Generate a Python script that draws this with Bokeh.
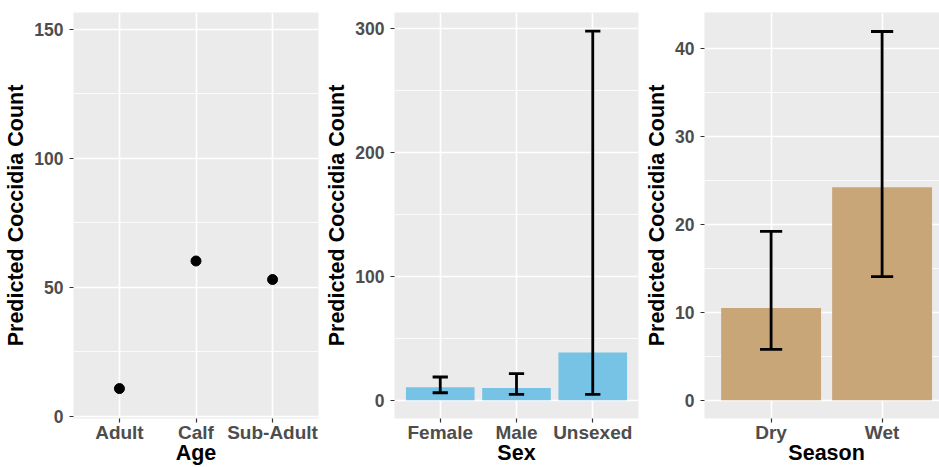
from bokeh.plotting import figure
from bokeh.layouts import row
from bokeh.models import Range1d, FixedTicker, LinearAxis
from bokeh.embed import file_html
from bokeh.resources import INLINE

# ---- data ----
age_categories = ["Adult", "Calf", "Sub-Adult"]
age_pred = [10.7, 60.2, 53.0]

sex_categories = ["Female", "Male", "Unsexed"]
sex_pred = [10.5, 9.9, 38.7]
sex_lower = [6.1, 4.8, 4.8]
sex_upper = [18.8, 21.5, 298.1]

season_categories = ["Dry", "Wet"]
season_pred = [10.5, 24.2]
season_lower = [5.8, 14.05]
season_upper = [19.2, 41.9]

age_yticks = [0, 50, 100, 150]
age_yminor = [25, 75, 125]
sex_yticks = [0, 100, 200, 300]
sex_yminor = [50, 150, 250]
season_yticks = [0, 10, 20, 30, 40]
season_yminor = [5, 15, 25, 35]

FONT = "Liberation Sans"
PANEL_BG = "#EBEBEB"
FIG_H = 467


def make_fig(width, bl, br, cats, x_end, y_start, y_end, yticks, yminor, xlabel):
    xs = list(range(1, len(cats) + 1))
    p = figure(width=width, height=FIG_H, output_backend="svg", toolbar_location=None,
               x_range=Range1d(0.4, x_end), y_range=Range1d(y_start, y_end),
               min_border_left=bl, min_border_right=br, min_border_top=12,
               min_border_bottom=20)
    p.background_fill_color = PANEL_BG
    p.border_fill_color = "white"
    p.outline_line_color = None

    p.xaxis.ticker = FixedTicker(ticks=xs)
    p.xaxis.major_label_overrides = {x: c for x, c in zip(xs, cats)}
    p.yaxis.ticker = FixedTicker(ticks=yticks, minor_ticks=yminor)

    for ax in (p.xaxis[0], p.yaxis[0]):
        ax.axis_line_color = None
        ax.major_tick_line_color = "#333333"
        ax.major_tick_line_width = 1.2
        ax.major_tick_out = 4
        ax.major_tick_in = 0
        ax.minor_tick_line_color = None
        ax.major_label_text_font = FONT
        ax.major_label_text_font_style = "bold"
        ax.major_label_text_color = "#4D4D4D"
        ax.axis_label_text_font = FONT
        ax.axis_label_text_font_style = "bold"
        ax.axis_label_text_font_size = "21.5px"
        ax.axis_label_text_color = "black"
    p.xaxis.major_label_text_font_size = "19px"
    p.yaxis.major_label_text_font_size = "17.5px"
    p.xaxis.major_label_standoff = -1
    p.yaxis.axis_label = "Predicted Coccidia Count"
    p.yaxis.major_label_standoff = 6
    p.yaxis.axis_label_standoff = 3

    # x-axis title: a second, tick-less axis below carrying one label at the centre
    mid = (len(cats) + 1) / 2
    title_axis = LinearAxis(ticker=FixedTicker(ticks=[mid]),
                            major_label_overrides={mid: xlabel},
                            axis_line_color=None, major_tick_line_color=None,
                            minor_tick_line_color=None, major_tick_out=0, major_tick_in=0,
                            major_label_standoff=-5,
                            major_label_text_font=FONT, major_label_text_font_style="bold",
                            major_label_text_font_size="21.5px",
                            major_label_text_color="black")
    p.add_layout(title_axis, "below")

    p.xgrid.grid_line_color = "white"
    p.xgrid.grid_line_width = 1.6
    p.ygrid.grid_line_color = "white"
    p.ygrid.grid_line_width = 1.6
    p.ygrid.minor_grid_line_color = "white"
    p.ygrid.minor_grid_line_width = 0.8
    return p, xs


def add_errorbars(p, xs, lo, hi):
    half = 0.1
    p.segment(x0=xs, y0=lo, x1=xs, y1=hi, line_color="black", line_width=2.8)
    p.segment(x0=[x - half for x in xs], y0=lo, x1=[x + half for x in xs], y1=lo,
              line_color="black", line_width=2.8)
    p.segment(x0=[x - half for x in xs], y0=hi, x1=[x + half for x in xs], y1=hi,
              line_color="black", line_width=2.8)


# Panel 1: Age
p1, xs1 = make_fig(320, 73, 2, age_categories, 3.6, -0.9, 156.6,
                   age_yticks, age_yminor, "Age")
p1.scatter(x=xs1, y=age_pred, size=10, color="black")

# Panel 2: Sex
p2, xs2 = make_fig(320, 74, 2, sex_categories, 3.6, -14.7, 313.2,
                   sex_yticks, sex_yminor, "Sex")
p2.vbar(x=xs2, top=sex_pred, bottom=0, width=0.9, fill_color="#77C3E6", line_color=None)
add_errorbars(p2, xs2, sex_lower, sex_upper)

# Panel 3: Season (right edge clipped at the picture's edge, as in the original)
p3, xs3 = make_fig(299, 64, 0, season_categories, 0.4 + 235 / 111, -2.06, 44.06,
                   season_yticks, season_yminor, "Season")
p3.vbar(x=xs3, top=season_pred, bottom=0, width=0.9, fill_color="#C8A678", line_color=None)
add_errorbars(p3, xs3, season_lower, season_upper)

layout = row(p1, p2, p3)
open("out.html", "w").write(file_html(layout, INLINE))
